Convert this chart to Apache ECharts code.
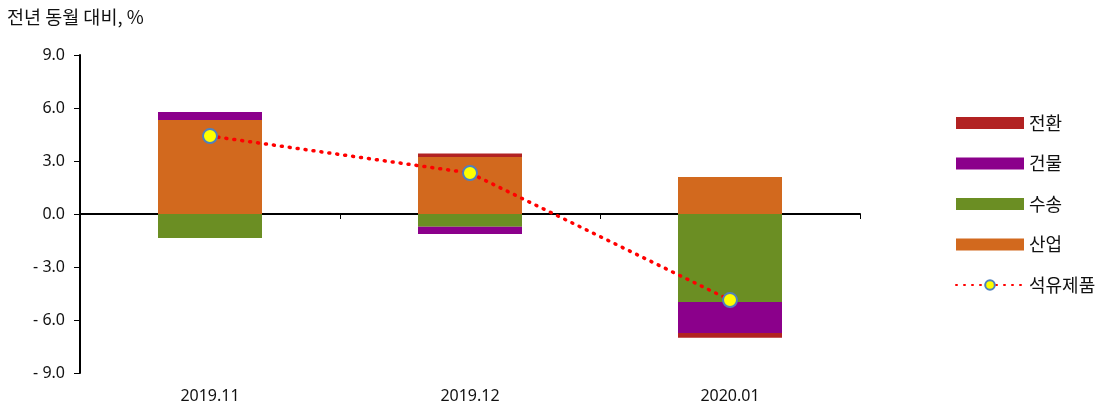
<!DOCTYPE html>
<html><head><meta charset="utf-8">
<script src="https://cdn.jsdelivr.net/npm/echarts@6/dist/echarts.min.js"></script>
<style>html,body{margin:0;padding:0;background:#fff}#c{width:1111px;height:405px}</style>
</head><body><div id="c"></div>
<script>
const categories = ['2019.11', '2019.12', '2020.01'];
const industry = [5.32, 3.23, 2.09];      // 산업
const transport = [-1.36, -0.72, -4.98];  // 수송
const building = [0.45, -0.41, -1.75];    // 건물
const conversion = [0, 0.2, -0.27];       // 전환
const petroleum = [4.41, 2.32, -4.87];    // 석유제품
const yTicks = [-9, -6, -3, 0, 3, 6, 9];

const font = 'Noto Sans CJK KR, Noto Sans, sans-serif';
const numFont = 'Noto Sans, sans-serif';
const chart = echarts.init(document.getElementById('c'), null, {renderer: 'canvas'});
const fmt = v => (v < 0 ? '- ' + Math.abs(v).toFixed(1) : v.toFixed(1));
function bar(name, data, color) {
  return {name, type: 'bar', stack: 'total', data, barWidth: '40%', itemStyle: {color}, xAxisIndex: 0};
}
chart.setOption({
  animation: false,
  textStyle: {fontFamily: font},
  graphic: [{type: 'text', left: 7, top: 8, style: {text: '전년 동월 대비, %', fontSize: 18.5, fill: '#111', fontFamily: font}}],
  grid: {left: 80, right: 251, top: 55, bottom: 32},
  legend: {
    orient: 'vertical', left: 950, top: 109, itemGap: 22.5, itemWidth: 68, itemHeight: 12,
    textStyle: {fontSize: 18, color: '#111', fontFamily: font},
    data: [
      {name: '전환', icon: 'rect'}, {name: '건물', icon: 'rect'}, {name: '수송', icon: 'rect'}, {name: '산업', icon: 'rect'},
      {name: '석유제품'}
    ]
  },
  xAxis: [
    {type: 'category', data: categories, axisLine: {onZero: true, lineStyle: {color: '#000', width: 2}},
     axisTick: {show: true, length: 5, lineStyle: {color: '#000'}}, axisLabel: {show: false}},
    {type: 'category', data: categories, position: 'bottom', axisLine: {show: false, onZero: false},
     axisTick: {show: false}, axisLabel: {fontSize: 16, color: '#111', margin: 15, fontFamily: numFont}}
  ],
  yAxis: {
    type: 'value', min: yTicks[0], max: yTicks[yTicks.length - 1], interval: 3,
    axisLine: {show: true, lineStyle: {color: '#000', width: 2}},
    axisTick: {show: true, length: 6, lineStyle: {color: '#000'}},
    splitLine: {show: false},
    axisLabel: {formatter: fmt, fontSize: 16, color: '#111', margin: 15, fontFamily: numFont}
  },
  series: [
    bar('산업', industry, '#D2691E'),
    bar('수송', transport, '#6B8E23'),
    bar('건물', building, '#8B008B'),
    bar('전환', conversion, '#B22222'),
    {name: '석유제품', type: 'line', data: petroleum, z: 5,
     symbol: 'circle', symbolSize: 14,
     itemStyle: {color: '#FFFF00', borderColor: '#4F81BD', borderWidth: 2},
     lineStyle: {color: '#FF0000', width: 3.5, type: [1, 7], cap: 'round'}}
  ]
});
</script></body></html>
